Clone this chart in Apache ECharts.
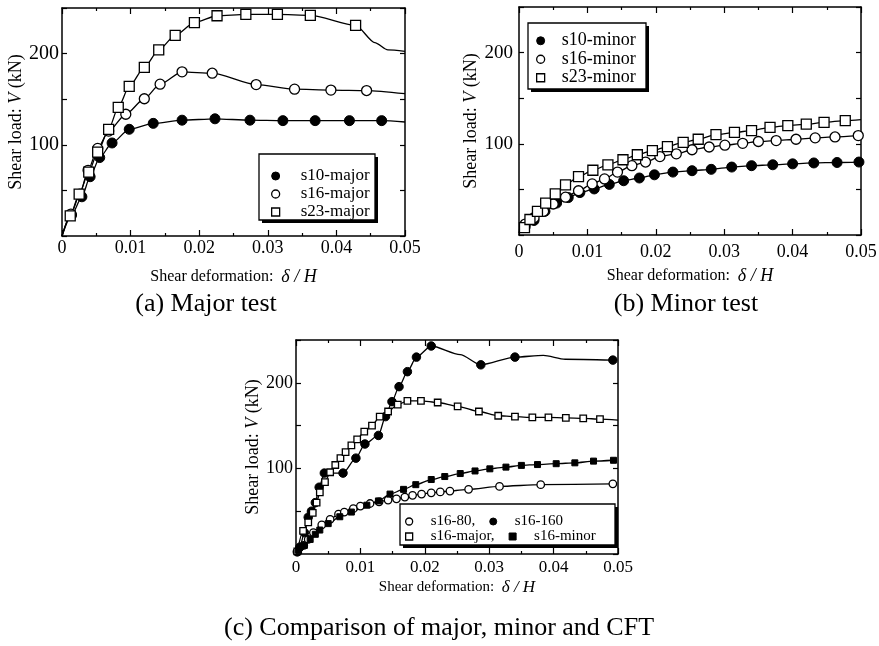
<!DOCTYPE html>
<html>
<head>
<meta charset="UTF-8">
<title>Shear load - shear deformation</title>
<script type="text/javascript" src="https://cdn.jsdelivr.net/npm/echarts@6/dist/echarts.min.js"></script>
<style>
  body { margin: 0; background: #fff; }
</style>
</head>
<body>
<div id="main" style="width:879px;height:646px"></div>
<script type="text/javascript">
// ---- data: [shear deformation delta/H, shear load V (kN)] ----
// points with a marker, and points the curve passes through without a marker

// (a) major test
var s10MajorPts = [[0.0014,23],[0.0029,43],[0.0041,65],[0.0055,86],[0.0073,102],[0.0098,117],[0.0133,123.5],[0.0175,127],
  [0.0223,128.5],[0.0274,127],[0.0322,126.5],[0.0369,126.5],[0.0419,126.5],[0.0466,126.5]];
var s10MajorCurve = [[0,0],[0.05,125]];
var s16MajorPts = [[0.0013,24],[0.0026,46],[0.0038,72],[0.0052,96],[0.0068,115],[0.0093,133.5],[0.012,150.5],[0.0143,166.5],
  [0.0175,180],[0.0219,178.5],[0.0283,166],[0.0339,161],[0.0392,160],[0.0444,159.5]];
var s16MajorCurve = [[0,0],[0.05,156]];
var s23MajorPts = [[0.0012,22],[0.0025,46],[0.0039,70],[0.0052,92],[0.0068,117],[0.0082,141],[0.0098,164],[0.012,185],
  [0.0141,204],[0.0165,220],[0.0193,234],[0.0226,241.5],[0.0268,243],[0.0314,243],[0.0362,242],[0.0428,231]];
var s23MajorCurve = [[0,0],[0.0456,212],[0.0475,204],[0.05,202.5]];

// (b) minor test
var s10MinorPts = [[0.0009,9],[0.0022,16],[0.0038,26],[0.0055,35],[0.0072,41],[0.0089,46.5],[0.011,50.5],[0.0132,55.5],
  [0.0153,59.5],[0.0176,62.5],[0.0198,66],[0.0225,69],[0.0253,70.5],[0.0281,72],[0.0311,74.5],[0.034,76],[0.0371,77],
  [0.04,78],[0.0431,79],[0.0465,79.5],[0.0497,80]];
var s10MinorCurve = [[0,2]];
var s16MinorPts = [[0.0009,12],[0.0022,19],[0.0036,26],[0.005,34],[0.0068,41.5],[0.0087,48.5],[0.0107,56],[0.0125,61.5],
  [0.0144,69],[0.0165,76],[0.0185,80],[0.0206,86],[0.023,89],[0.0253,93.5],[0.0278,96.5],[0.0301,98.5],[0.0327,100.5],
  [0.035,102.5],[0.0376,103.5],[0.0405,105],[0.0433,106.5],[0.0462,107.5],[0.0496,109]];
var s16MinorCurve = [[0,3]];
var s23MinorPts = [[0.0008,8],[0.0016,17],[0.0027,26],[0.0039,35],[0.0053,45],[0.0068,55],[0.0087,64],[0.0108,71],
  [0.013,77],[0.0152,82.5],[0.0173,88],[0.0195,92.5],[0.0217,97],[0.024,101.5],[0.0262,105],[0.0288,110],[0.0315,112.5],
  [0.034,114.5],[0.0367,118],[0.0393,120],[0.042,121.5],[0.0446,123.5],[0.0477,125.5]];
var s23MinorCurve = [[0,2],[0.05,126.5]];

// (c) comparison
var s1680Pts = [[0.0002,2.5],[0.0012,10],[0.0019,17],[0.0027,25],[0.004,34],[0.0053,40.5],[0.0066,46.5],[0.0075,49],
  [0.0089,53],[0.01,56],[0.0115,59],[0.0129,61],[0.0143,63],[0.0156,64.5],[0.0169,66.5],[0.0181,68.5],[0.0195,70],
  [0.021,71.5],[0.0224,72.5],[0.0239,73.5],[0.0268,75.5],[0.0316,79],[0.038,81],[0.0492,82]];
var s1680Curve = [];
var s16160Pts = [[0.0002,2.5],[0.0006,8],[0.0013,25],[0.0019,43],[0.0024,50],[0.003,60],[0.0036,78],[0.0044,94.5],
  [0.0073,94.5],[0.0093,112],[0.0107,128.5],[0.0128,138.5],[0.0139,160.5],[0.0149,178],[0.016,195.5],[0.0173,213],
  [0.0187,230],[0.021,243],[0.0287,221],[0.034,230],[0.0492,226.5]];
var s16160Curve = [[0.0255,233],[0.0384,232],[0.0418,227.5]];
var s16MajorCPts = [[0.0002,3],[0.0011,27],[0.0019,37],[0.0026,48],[0.0032,60],[0.0037,72],[0.0045,84],[0.0053,95.5],
  [0.0061,104],[0.0069,112],[0.0077,119],[0.0086,127],[0.0095,134],[0.0106,143],[0.0118,150],[0.013,160.5],
  [0.0143,166.5],[0.0158,174.5],[0.0173,179],[0.0194,179],[0.022,177],[0.0251,172.5],[0.0284,166.5],[0.0314,161.5],
  [0.034,160.5],[0.0367,159.5],[0.0392,159.5],[0.0419,159],[0.0446,158.5],[0.0472,157.5]];
var s16MajorCCurve = [[0.05,156.5]];
var s16MinorCPts = [[0.0004,4],[0.0013,10],[0.0022,17],[0.003,23],[0.0037,28],[0.005,35.5],[0.0068,43.5],[0.0086,49],
  [0.011,57],[0.0128,62],[0.0146,70],[0.0167,75.5],[0.0186,81],[0.021,87],[0.0231,90.5],[0.0255,94],[0.0278,97],
  [0.0301,99.5],[0.0326,101.5],[0.035,103.5],[0.0375,104.5],[0.0404,105.5],[0.0433,106.5],[0.0462,108.5],[0.0493,109.5]];
var s16MinorCCurve = [];

var xMin = 0, xMax = 0.05, xStep = 0.01;
var yMin = 0, yMax = 250, yStep = 50;
var yLabelValues = [100, 200];
var captions = ['(a) Major test', '(b) Minor test', '(c) Comparison of major, minor and CFT'];
var xName = 'Shear deformation:  {i|\u03b4 / H}';
var yName = 'Shear load: {i|V} (kN)';

// ---- chart ----
var serif = '"Liberation Serif", "Times New Roman", serif';
var myChart = echarts.init(document.getElementById('main'));

var styles = {
  dot:   { symbol: 'circle', itemStyle: { color: '#000', borderColor: '#000', borderWidth: 1 } },
  ring:  { symbol: 'circle', itemStyle: { color: '#fff', borderColor: '#000', borderWidth: 1.3 } },
  box:   { symbol: 'rect',   itemStyle: { color: '#fff', borderColor: '#000', borderWidth: 1.3 } },
  block: { symbol: 'rect',   itemStyle: { color: '#000', borderColor: '#000', borderWidth: 1 } }
};

function curveData(pts, extra) {
  var d = pts.map(function (p) { return { value: p }; });
  extra.forEach(function (p) { d.push({ value: p, symbol: 'none' }); });
  d.sort(function (a, b) { return a.value[0] - b.value[0]; });
  return d;
}

function line(name, grid, kind, pts, extra, size) {
  return {
    name: name, type: 'line', xAxisIndex: grid * 2, yAxisIndex: grid * 2,
    data: curveData(pts, extra),
    symbol: styles[kind].symbol, symbolSize: size,
    itemStyle: styles[kind].itemStyle,
    lineStyle: { color: '#000', width: 1.3 },
    smooth: 0.25, smoothMonotone: 'x',
    silent: true, animation: false
  };
}

function legendItem(name, kind) {
  return { name: name, icon: styles[kind].symbol, itemStyle: styles[kind].itemStyle };
}

var panels = [
  { grid: { left: 62, top: 8, width: 343, height: 228 }, xFont: 18, yFont: 20, xMargin: 3, yMargin: 3,
    xNameFont: 16, xNameGap: 32, yNameGap: 37 },
  { grid: { left: 519, top: 7, width: 342, height: 228 }, xFont: 18, yFont: 19, xMargin: 8, yMargin: 6,
    xNameFont: 16, xNameGap: 32, yNameGap: 38 },
  { grid: { left: 296, top: 340, width: 322, height: 214 }, xFont: 17, yFont: 18, xMargin: 5, yMargin: 3,
    xNameFont: 15, xNameGap: 25, yNameGap: 34 }
];

var grids = [], xAxes = [], yAxes = [];
var axisLine = { show: true, onZero: false, lineStyle: { color: '#000', width: 1.5 } };
panels.forEach(function (p, i) {
  grids.push(Object.assign({ show: false, containLabel: false, outerBoundsMode: 'none' }, p.grid));
  var xBase = {
    type: 'value', gridIndex: i, min: xMin, max: xMax, interval: xStep,
    axisLine: axisLine, splitLine: { show: false },
    axisTick: { show: true, inside: true, length: 6, lineStyle: { color: '#000', width: 1.2 } },
    minorTick: { show: true, splitNumber: 2, length: 3, lineStyle: { color: '#000', width: 1.2 } }
  };
  xAxes.push(Object.assign({}, xBase, {
    position: 'bottom',
    name: xName, nameLocation: 'middle', nameGap: p.xNameGap,
    nameTextStyle: { fontFamily: serif, fontSize: p.xNameFont, color: '#000',
      rich: { i: { fontFamily: serif, fontSize: p.xNameFont + 2, fontStyle: 'italic', color: '#000' } } },
    axisLabel: { show: true, margin: p.xMargin, fontFamily: serif, fontSize: p.xFont, color: '#000',
      formatter: function (v) { return v === 0 ? '0' : v.toFixed(2); } }
  }));
  xAxes.push(Object.assign({}, xBase, { position: 'top', axisLabel: { show: false } }));
  var yBase = {
    type: 'value', gridIndex: i, min: yMin, max: yMax, interval: yStep,
    axisLine: axisLine, splitLine: { show: false },
    axisTick: { show: true, inside: true, length: 5, lineStyle: { color: '#000', width: 1.2 } }
  };
  yAxes.push(Object.assign({}, yBase, {
    position: 'left',
    name: yName, nameLocation: 'middle', nameGap: p.yNameGap, nameRotate: 90,
    nameTextStyle: { fontFamily: serif, fontSize: 18, color: '#000',
      rich: { i: { fontFamily: serif, fontSize: 18, fontStyle: 'italic', color: '#000' } } },
    axisLabel: { show: true, margin: p.yMargin, fontFamily: serif, fontSize: p.yFont, color: '#000',
      formatter: function (v) { return yLabelValues.indexOf(v) >= 0 ? String(v) : ''; } }
  }));
  yAxes.push(Object.assign({}, yBase, { position: 'right', axisLabel: { show: false } }));
});

// legend frames with a hard drop shadow
var frames = [
  { x: 259, y: 154, width: 116, height: 66 },
  { x: 528, y: 23, width: 118, height: 66 },
  { x: 400, y: 504, width: 215, height: 41 }
];
var frameGraphics = [];
frames.forEach(function (f) {
  frameGraphics.push({ type: 'rect', z: 5, shape: { x: f.x + 3, y: f.y + 3, width: f.width, height: f.height },
    style: { fill: '#000' }, silent: true });
  frameGraphics.push({ type: 'rect', z: 6, shape: f,
    style: { fill: '#fff', stroke: '#000', lineWidth: 1.3 }, silent: true });
});

var legendBase = { selectedMode: false, itemWidth: 8, itemHeight: 8, padding: 0, itemGap: 0, z: 10 };

var option = {
  backgroundColor: '#fff',
  animation: false,
  grid: grids,
  xAxis: xAxes,
  yAxis: yAxes,
  legend: [
    Object.assign({}, legendBase, {
      data: [legendItem('s10-major', 'dot'), legendItem('s16-major', 'ring'), legendItem('s23-major', 'box')],
      orient: 'vertical', left: 271, top: 167,
      textStyle: { fontFamily: serif, fontSize: 17, lineHeight: 18, color: '#000', padding: [0, 0, 0, 16] }
    }),
    Object.assign({}, legendBase, {
      data: [legendItem('s10-minor', 'dot'), legendItem('s16-minor', 'ring'), legendItem('s23-minor', 'box')],
      orient: 'vertical', left: 536, top: 31.5,
      textStyle: { fontFamily: serif, fontSize: 18, lineHeight: 18.5, color: '#000', padding: [0, 0, 0, 12] }
    }),
    Object.assign({}, legendBase, {
      data: [legendItem('s16-80', 'ring'), legendItem('s16-160', 'dot'), legendItem('s16-major ', 'box'), legendItem('s16-minor ', 'block')],
      orient: 'horizontal', left: 405, top: 514, width: 230, itemWidth: 7, itemHeight: 7,
      formatter: function (name) { return (name === 's16-80' || name === 's16-major ') ? name.trim() + ',' : name.trim(); },
      textStyle: { fontFamily: serif, fontSize: 15, lineHeight: 15, color: '#000', padding: [0, 14, 0, 13] }
    })
  ],
  series: [
    line('s10-major', 0, 'dot', s10MajorPts, s10MajorCurve, 10),
    line('s16-major', 0, 'ring', s16MajorPts, s16MajorCurve, 10),
    line('s23-major', 0, 'box', s23MajorPts, s23MajorCurve, 10),
    line('s10-minor', 1, 'dot', s10MinorPts, s10MinorCurve, 10),
    line('s16-minor', 1, 'ring', s16MinorPts, s16MinorCurve, 10),
    line('s23-minor', 1, 'box', s23MinorPts, s23MinorCurve, 10),
    line('s16-80', 2, 'ring', s1680Pts, s1680Curve, 7.5),
    line('s16-160', 2, 'dot', s16160Pts, s16160Curve, 8.5),
    line('s16-major ', 2, 'box', s16MajorCPts, s16MajorCCurve, 6.5),
    line('s16-minor ', 2, 'block', s16MinorCPts, s16MinorCCurve, 6)
  ],
  graphic: frameGraphics.concat([
    { type: 'text', x: 206, y: 304, style: { text: captions[0], font: '26px ' + serif, fill: '#000', align: 'center', verticalAlign: 'middle' } },
    { type: 'text', x: 686, y: 304, style: { text: captions[1], font: '26px ' + serif, fill: '#000', align: 'center', verticalAlign: 'middle' } },
    { type: 'text', x: 439, y: 628, style: { text: captions[2], font: '26px ' + serif, fill: '#000', align: 'center', verticalAlign: 'middle' } }
  ])
};

myChart.setOption(option);
</script>
</body>
</html>
